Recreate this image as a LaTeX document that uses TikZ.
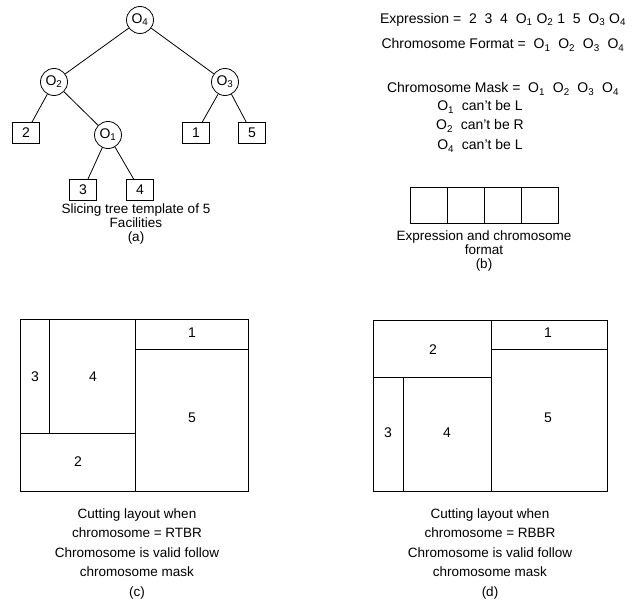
\documentclass[tikz,border=0pt]{standalone}
\usepackage{fontspec}
\setmainfont{Liberation Sans}
\newcommand{\Osub}[1]{O\textsubscript{#1}}
\begin{document}
\begin{tikzpicture}[x=1pt,y=-1pt,
  every node/.style={font=\fontsize{14}{14}\selectfont},
  opnode/.style={draw,circle,line width=0.8pt,minimum size=27pt,inner sep=0pt},
  leaf/.style={draw,line width=0.8pt,minimum width=27pt,minimum height=21pt,inner sep=0pt},
  edge/.style={line width=0.8pt},
  frame/.style={line width=0.8pt},
  caption/.style={align=center,font=\fontsize{13.5}{14}\selectfont},
  capcd/.style={align=center,font=\fontsize{13.5}{19.5}\selectfont},
  txt/.style={anchor=center}]
\useasboundingbox (0,0) rectangle (643,602);
% (a) tree
\node[opnode] (o4) at (140,20) {\Osub{4}};
\node[opnode] (o2) at (54,82) {\Osub{2}};
\node[opnode] (o3) at (225,82) {\Osub{3}};
\node[leaf] (l2) at (26,133) {2};
\node[opnode] (o1) at (108,135) {\Osub{1}};
\node[leaf] (l1) at (196,133) {1};
\node[leaf] (l5) at (252,133) {5};
\node[leaf] (l3) at (83,190) {3};
\node[leaf] (l4) at (140,190) {4};
\draw[edge] (o4) -- (o2);
\draw[edge] (o4) -- (o3);
\draw[edge] (o2) -- (l2);
\draw[edge] (o2) -- (o1);
\draw[edge] (o1) -- (l3);
\draw[edge] (o1) -- (l4);
\draw[edge] (o3) -- (l1);
\draw[edge] (o3) -- (l5);
\node[caption] (capa) at (136,224) {Slicing tree template of 5\\Facilities\\(a)};
% (b)
\node[txt] (expr) at (503,20) {Expression = \ 2 \ 3 \ 4 \ \Osub{1} \Osub{2} 1 \ 5 \ \Osub{3} \Osub{4}};
\node[txt] (fmt) at (503,45) {Chromosome Format = \ \Osub{1} \ \Osub{2} \ \Osub{3} \ \Osub{4}};
\node[txt] (mask) at (503,89) {Chromosome Mask = \ \Osub{1} \ \Osub{2} \ \Osub{3} \ \Osub{4}};
\node[txt] (m1) at (480,107) {\Osub{1} \ can't be L};
\node[txt] (m2) at (480,126) {\Osub{2} \ can't be R};
\node[txt] (m4) at (480,146) {\Osub{4} \ can't be L};
\foreach \i/\x in {1/410,2/447,3/484,4/521}{
  \node[draw,line width=0.8pt,minimum width=37pt,minimum height=36pt,inner sep=0pt,anchor=north west] (cell\i) at (\x,187) {};
}
\node[caption] (capb) at (484,251) {Expression and chromosome\\format\\(b)};
% (c)
\draw[frame] (20,319) rectangle (248,491);
\draw[frame] (135,319) -- (135,491);
\draw[frame] (135,349) -- (248,349);
\draw[frame] (20,433) -- (135,433);
\draw[frame] (49,319) -- (49,433);
\node (c3) at (35,377) {3};
\node (c4) at (93,377) {4};
\node (c1) at (192,333) {1};
\node (c5) at (192,418) {5};
\node (c2) at (78,462) {2};
\node[capcd] (capc) at (137,554) {Cutting layout when\\chromosome = RTBR\\Chromosome is valid follow\\chromosome mask\\(c)};
% (d)
\draw[frame] (373,320) rectangle (607,491);
\draw[frame] (491,320) -- (491,491);
\draw[frame] (491,349) -- (607,349);
\draw[frame] (373,377) -- (491,377);
\draw[frame] (403,377) -- (403,491);
\node (d2) at (433,350) {2};
\node (d1) at (548,333) {1};
\node (d5) at (548,418) {5};
\node (d3) at (388,433) {3};
\node (d4) at (447,433) {4};
\node[capcd] (capd) at (490,554) {Cutting layout when\\chromosome = RBBR\\Chromosome is valid follow\\chromosome mask\\(d)};
\end{tikzpicture}
\end{document}
